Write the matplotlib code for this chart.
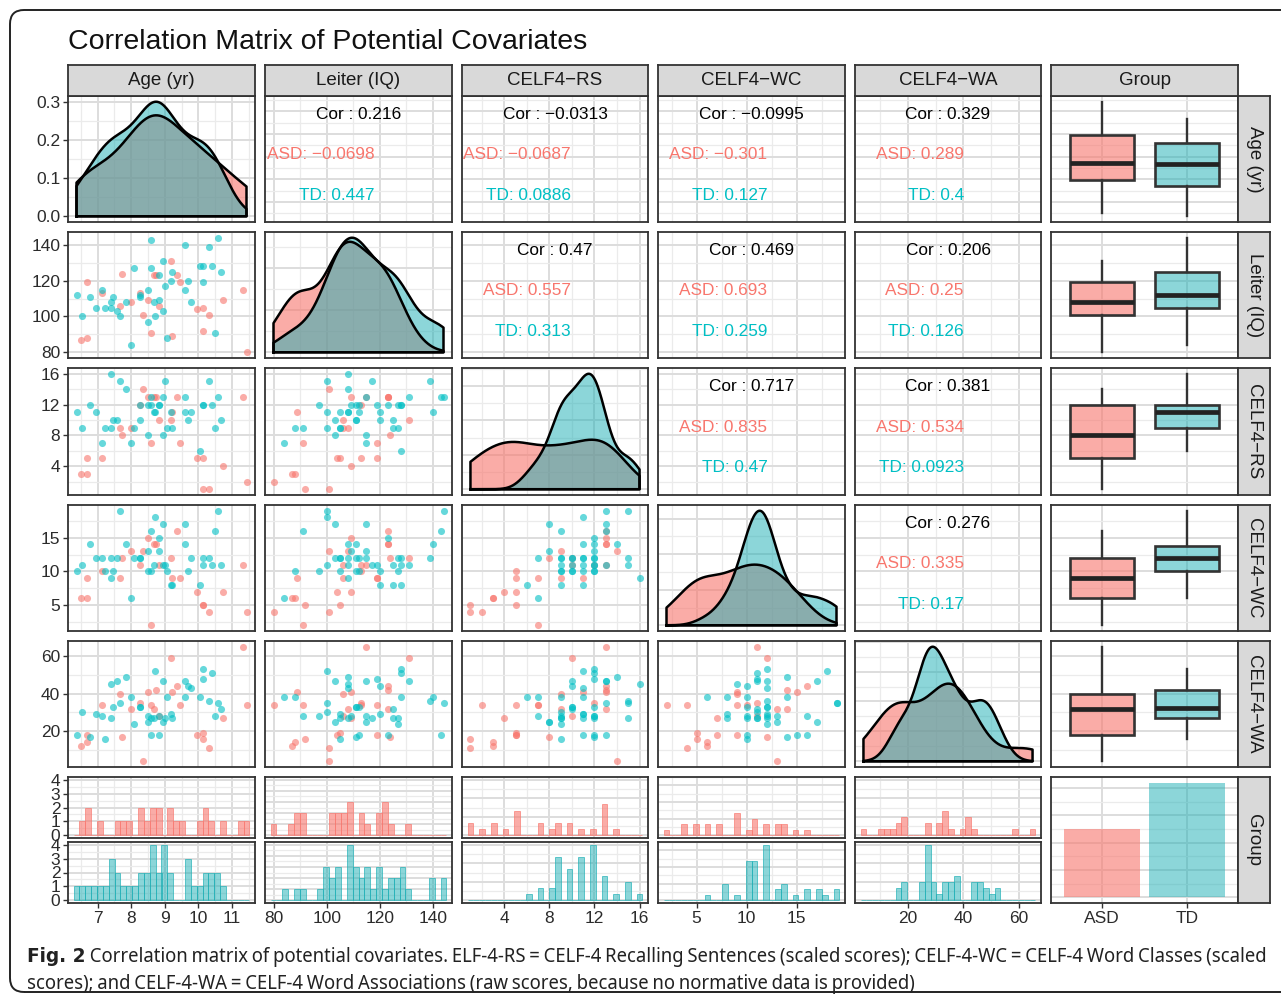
import numpy as np
import matplotlib
matplotlib.use('Agg')
import matplotlib.pyplot as plt
from matplotlib.patches import FancyBboxPatch
from matplotlib.ticker import MaxNLocator
from matplotlib import font_manager as fm

plt.rcParams['font.family'] = ['Liberation Sans', 'DejaVu Sans']

# ---------------- data ----------------
var_names = ["Age (yr)", "Leiter (IQ)", "CELF4\u2212RS", "CELF4\u2212WC", "CELF4\u2212WA"]
groups = ["ASD", "TD"]
point_colors = ["#F8766D", "#00BFC4"]
fill_colors = ["#F8766D", "#1AAEB4"]

age_asd = [6.51, 6.68, 6.69, 7.14, 7.65, 7.73, 7.98, 8.25, 8.35, 8.49, 8.60, 8.69, 8.74, 8.84, 9.18,
           9.20, 9.36, 9.45, 9.97, 10.14, 10.14, 10.31, 10.74, 11.33, 11.43]
leiter_asd = [87, 88, 119, 113, 106, 124, 108, 113, 101, 109, 91, 123, 123, 106, 131,
              89, 123, 119, 104, 105, 92, 101, 109, 115, 80]
rs_asd = [3, 3, 5, 5, 9, 8, 9, 12, 14, 13, 7, 13, 13, 10, 10, 11, 13, 7, 5, 5, 1, 1, 4, 13, 2]
wc_asd = [6, 6, 9, 10, 9, 12, 13, 11, 13, 15, 2, 14, 14, 11, 12, 9, 16, 9, 7, 5, 5, 4, 7, 11, 4]
wa_asd = [12, 14, 18, 34, 40, 17, 32, 35, 4, 41, 34, 32, 42, 28, 59, 41, 44, 34, 18, 19, 16, 11, 27, 65, 34]

age_td = [6.37, 6.53, 6.78, 6.96, 7.14, 7.23, 7.39, 7.40, 7.47, 7.57, 7.65, 7.85, 7.99, 8.08,
          8.25, 8.25, 8.49, 8.50, 8.60, 8.60, 8.67, 8.72, 8.84, 8.84, 8.93, 8.93, 9.00, 9.05,
          9.18, 9.20, 9.60, 9.60, 9.69, 9.79, 10.05, 10.14, 10.14, 10.30, 10.40, 10.49, 10.57, 10.66]
leiter_td = [112, 100, 111, 105, 115, 105, 105, 108, 111, 103, 100, 108, 84, 127,
             111, 112, 115, 97, 143, 127, 108, 100, 123, 109, 103, 131, 117, 88,
             120, 125, 115, 140, 120, 108, 128, 128, 119, 139, 128, 91, 144, 125]
rs_td = [11, 9, 12, 11, 7, 9, 9, 16, 10, 10, 15, 14, 7, 9, 10, 12, 8, 12, 13, 12, 11,
         11, 12, 12, 8, 13, 15, 9, 11, 9, 13, 11, 10, 11, 6, 12, 12, 15, 12, 9, 13, 10]
wc_td = [10, 11, 14, 12, 12, 10, 12, 9, 10, 12, 19, 14, 6, 12, 12, 12, 13, 10, 16, 10, 11,
         18, 15, 13, 17, 11, 11, 10, 8, 8, 17, 14, 10, 12, 8, 12, 11, 12, 11, 16, 19, 11]
wa_td = [18, 30, 17, 29, 28, 16, 27, 45, 33, 47, 35, 49, 38, 24, 33, 33, 25, 28, 18, 27, 27,
         52, 18, 28, 25, 47, 27, 38, 29, 27, 47, 38, 44, 43, 38, 53, 48, 36, 51, 28, 35, 32]

var_ticks = [[7, 8, 9, 10, 11], [80, 100, 120, 140], [4, 8, 12, 16], [5, 10, 15], [20, 40, 60]]

# correlation labels, upper triangle (row, col)
cor_pairs = [(0, 1), (0, 2), (0, 3), (0, 4), (1, 2), (1, 3), (1, 4), (2, 3), (2, 4), (3, 4)]
cor_all = ["0.216", "\u22120.0313", "\u22120.0995", "0.329", "0.47", "0.469", "0.206", "0.717", "0.381", "0.276"]
cor_asd = ["\u22120.0698", "\u22120.0687", "\u22120.301", "0.289", "0.557", "0.693", "0.25", "0.835", "0.534", "0.335"]
cor_td = ["0.447", "0.0886", "0.127", "0.4", "0.313", "0.259", "0.126", "0.47", "0.0923", "0.17"]

caption_bold = "Fig. 2"
caption_line1 = (" Correlation matrix of potential covariates. ELF-4-RS = CELF-4 Recalling Sentences "
                 "(scaled scores); CELF-4-WC = CELF-4 Word Classes (scaled")
caption_line2 = ("scores); and CELF-4-WA = CELF-4 Word Associations (raw scores, because no normative "
                 "data is provided)")

data = {"ASD": [np.array(v, float) for v in (age_asd, leiter_asd, rs_asd, wc_asd, wa_asd)],
        "TD": [np.array(v, float) for v in (age_td, leiter_td, rs_td, wc_td, wa_td)]}

# ---------------- layout ----------------
W, H = 1281, 1000
fig = plt.figure(figsize=(W / 100, H / 100), dpi=100)

col_x = [(68, 255), (265, 452), (462, 648), (658, 845), (855, 1041), (1051, 1238)]
row_y = [(96, 222), (232, 358), (368, 495), (505, 631), (641, 767), (777, 903)]
SPINE = '#333333'
TXT = '#2b2b2b'
TICKFS = 12.5
A_ASD, A_TD = 0.6, 0.5
fills = [matplotlib.colors.to_rgba(fill_colors[0], A_ASD), matplotlib.colors.to_rgba(fill_colors[1], A_TD)]

lims = []
for v in range(5):
    allv = np.concatenate([data["ASD"][v], data["TD"][v]])
    mn, mx = allv.min(), allv.max()
    r = mx - mn
    lims.append((mn - 0.05 * r, mx + 0.05 * r))


def make_ax(x0, x1, y0, y1):
    ax = fig.add_axes([x0 / W, 1 - y1 / H, (x1 - x0) / W, (y1 - y0) / H])
    for s in ax.spines.values():
        s.set_color(SPINE)
        s.set_linewidth(1.3)
    ax.tick_params(which='both', length=0, labelleft=False, labelbottom=False,
                   labelsize=TICKFS, labelcolor=TXT, color=SPINE, width=1.0, pad=2)
    ax.set_axisbelow(True)
    return ax


def minors(ticks, lim):
    step = ticks[1] - ticks[0]
    c = np.arange(ticks[0] - step / 2, ticks[-1] + step, step)
    return [m for m in c if lim[0] <= m <= lim[1]]


def set_grid(ax, xt, xl, yt, yl, xminor=True, yminor=True):
    ax.set_xticks(xt)
    ax.set_yticks(yt)
    ax.set_xticks(minors(xt, xl) if xminor else [], minor=True)
    ax.set_yticks(minors(yt, yl) if yminor else [], minor=True)
    ax.set_xlim(xl)
    ax.set_ylim(yl)
    ax.grid(which='major', color='#DDDDDD', lw=1.4)
    ax.grid(which='minor', color='#EBEBEB', lw=0.9)


def bw_nrd0(x):
    hi = np.std(x, ddof=1)
    q75, q25 = np.percentile(x, [75, 25])
    lo = min(hi, (q75 - q25) / 1.34)
    if lo <= 0:
        lo = hi
    return 0.9 * lo * len(x) ** (-0.2)


def kde(x, grid):
    bw = bw_nrd0(x)
    z = (grid[:, None] - x[None, :]) / bw
    return np.exp(-0.5 * z ** 2).sum(1) / (len(x) * bw * np.sqrt(2 * np.pi))


def density_ticks(ymax, yl):
    t = MaxNLocator(nbins=4, steps=[1, 2, 2.5, 5, 10]).tick_values(0, ymax)
    return [v for v in t if yl[0] - 1e-9 <= v <= yl[1] + 1e-9]


# ---------------- panels ----------------
for i in range(5):          # rows (variables)
    for j in range(6):      # columns
        x0, x1 = col_x[j]
        y0, y1 = row_y[i]
        ax = make_ax(x0, x1, y0, y1)
        if j < 5 and i == j:
            span = lims[i][1] - lims[i][0]
            grid = np.linspace(lims[i][0] + 0.05 / 1.1 * span, lims[i][1] - 0.05 / 1.1 * span, 512)
            dens = [kde(data[g][i], grid) for g in groups]
            dmax = max(d.max() for d in dens)
            yl = (-0.05 * dmax, 1.05 * dmax)
            yt = density_ticks(dmax, yl) if i > 0 else [0.0, 0.1, 0.2, 0.3]
            set_grid(ax, var_ticks[i], lims[i], yt, yl)
            for fc, d in zip(fills, dens):
                ax.fill_between(grid, 0, d, color=fc, lw=0)
                ax.plot(np.r_[grid[0], grid, grid[-1], grid[0]], np.r_[0, d, 0, 0],
                        color='black', lw=1.8, solid_joinstyle='round')
            if i == 0:
                ax.set_yticklabels(["0.0", "0.1", "0.2", "0.3"])
                ax.tick_params(which='major', axis='y', length=3.5, labelleft=True)
        elif j < 5 and j < i:
            set_grid(ax, var_ticks[j], lims[j], var_ticks[i], lims[i])
            for g, c in zip(groups, point_colors):
                ax.scatter(data[g][j], data[g][i], s=26, color=c, alpha=0.6, lw=0)
            if j == 0:
                ax.tick_params(which='major', axis='y', length=3.5, labelleft=True)
        elif j < 5 and j > i:
            set_grid(ax, var_ticks[j], lims[j], var_ticks[i], lims[i])
            k = cor_pairs.index((i, j))
            ax.text(0.5, 0.857, "Cor : " + cor_all[k], transform=ax.transAxes,
                    ha='center', va='center', fontsize=12.4, color='black')
            ax.text(0.585, 0.532, "ASD: " + cor_asd[k], transform=ax.transAxes,
                    ha='right', va='center', fontsize=12.4, color=point_colors[0])
            ax.text(0.585, 0.214, "TD: " + cor_td[k], transform=ax.transAxes,
                    ha='right', va='center', fontsize=12.4, color=point_colors[1])
        else:
            set_grid(ax, [1, 2], (0.4, 2.6), var_ticks[i], lims[i], xminor=False)
            bp = ax.boxplot([data[g][i] for g in groups], positions=[1, 2], widths=0.75,
                            patch_artist=True, showcaps=False, whis=1.5,
                            medianprops=dict(color='#222222', lw=3.4, solid_capstyle='butt'),
                            whiskerprops=dict(color='#333333', lw=1.7),
                            flierprops=dict(marker='o', markerfacecolor='#333333',
                                            markeredgecolor='#333333', markersize=5))
            for patch, fc in zip(bp['boxes'], fills):
                patch.set_facecolor(fc)
                patch.set_edgecolor('#333333')
                patch.set_linewidth(1.9)
            ax.set_xlim(0.4, 2.6)
            ax.set_ylim(lims[i])

# bottom row: histograms per group
for j in range(5):
    x0, x1 = col_x[j]
    allv = np.concatenate([data["ASD"][j], data["TD"][j]])
    mn, mx = allv.min(), allv.max()
    bw = (mx - mn) / 29
    edges = mn - bw / 2 + bw * np.arange(31)
    centers = (edges[:-1] + edges[1:]) / 2
    counts = [np.histogram(data[g][j], bins=edges)[0] for g in groups]
    cmax = max(c.max() for c in counts)
    yl = (-0.05 * cmax, 1.05 * cmax)
    if cmax <= 5:
        yt = list(range(0, int(cmax) + 1))
    else:
        yt = [v for v in MaxNLocator(nbins=4, integer=True).tick_values(0, cmax) if v <= yl[1]]
    subs = [(777, 838), (842, 903)]
    for gi in range(2):
        ax = make_ax(x0, x1, subs[gi][0], subs[gi][1])
        set_grid(ax, var_ticks[j], lims[j], yt, yl)
        ec = matplotlib.colors.to_rgba(fill_colors[gi], 0.75)
        ax.bar(centers, counts[gi], width=bw, color=fills[gi], edgecolor=ec, lw=0.6)
        if j == 0:
            ax.tick_params(which='major', axis='y', length=3.5, labelleft=True)
        if gi == 1:
            ax.tick_params(which='major', axis='x', length=3.5, labelbottom=True)

# bottom-right: group counts
ax = make_ax(col_x[5][0], col_x[5][1], row_y[5][0], row_y[5][1])
n_counts = [len(data[g][0]) for g in groups]
cm = max(n_counts)
set_grid(ax, [1, 2], (0.4, 2.6), [0, 10, 20, 30, 40], (-0.05 * cm, 1.05 * cm), xminor=False)
ax.bar([1, 2], n_counts, width=0.9, color=fills, lw=0)
ax.set_xticklabels(groups)
ax.tick_params(which='major', axis='x', length=3.5, labelbottom=True)

# strips
all_names = var_names + ["Group"]
for j in range(6):
    x0, x1 = col_x[j]
    sa = make_ax(x0, x1, 65, 96)
    sa.set_facecolor('#D9D9D9')
    sa.set_xticks([]); sa.set_yticks([])
    sa.text(0.5, 0.5, all_names[j], transform=sa.transAxes, ha='center', va='center',
            fontsize=13.5, color='#1a1a1a')
for i in range(6):
    y0, y1 = row_y[i]
    sa = make_ax(1238, 1270, y0, y1)
    sa.set_facecolor('#D9D9D9')
    sa.set_xticks([]); sa.set_yticks([])
    sa.text(0.5, 0.5, all_names[i], transform=sa.transAxes, ha='center', va='center',
            fontsize=13.5, color='#1a1a1a', rotation=-90)

# title
fig.text(68 / W, 1 - 42 / H, "Correlation Matrix of Potential Covariates", ha='left',
         va='center', fontsize=20.5, color='#111111')

# frame
frame = FancyBboxPatch((0.10, 0.08), 13.2, 9.82, boxstyle="round,pad=0,rounding_size=0.14",
                       transform=fig.dpi_scale_trans, fill=False, ec='#222222', lw=1.4)
fig.add_artist(frame)

# caption: pick the installed sans face whose size that fits the line width is nearest 13.5 pt
Y1, Y2 = 1 - 962 / H, 1 - 989 / H
TARGET_W = 1243.0
r = fig.canvas.get_renderer()
PREF = ('Open Sans', 'Noto Sans', 'Roboto', 'Liberation Sans', 'DejaVu Sans', 'Lato', 'Inter')


def wnum(f):
    w = f.weight
    if isinstance(w, (int, float)):
        return int(w)
    return fm.weight_dict.get(str(w).lower(), 400)


def usable(f):
    nm = f.name
    if any(s in nm for s in ('Mono', 'Serif', 'CJK', 'Extra', 'Ultra', 'Black', 'Light', 'Thin')):
        return False
    if f.style != 'normal':
        return False
    if 'italic' in f.fname.lower() or 'variable' in f.fname.lower() or '[' in f.fname:
        return False
    return any(nm.startswith(p) for p in PREF)


regular = []
seen = set()
for f in fm.fontManager.ttflist:
    if usable(f) and wnum(f) == 400 and (f.name, str(f.stretch)) not in seen:
        seen.add((f.name, str(f.stretch)))
        regular.append(f)

best = None
for f in regular:
    fp = fm.FontProperties(fname=f.fname)
    tt = fig.text(0, 0, caption_bold + caption_line1, fontproperties=fp, fontsize=14)
    wd = tt.get_window_extent(r).width
    tt.remove()
    need = 14 * TARGET_W / wd
    score = abs(need - 13.5)
    if best is None or score < best[0]:
        best = (score, f, need)

fp_reg = fm.FontProperties(family=['Liberation Sans'])
fp_bold = fm.FontProperties(family=['Liberation Sans'], weight='bold')
cap_fs = 12.5
if best is not None:
    freg = best[1]
    fp_reg = fm.FontProperties(fname=freg.fname)
    cap_fs = best[2]
    bolds = [f for f in fm.fontManager.ttflist
             if f.style == 'normal' and wnum(f) >= 600 and 'italic' not in f.fname.lower()
             and any(f.name.startswith(p) for p in PREF) and 'Mono' not in f.name
             and 'Serif' not in f.name and 'CJK' not in f.name]
    same = [f for f in bolds if f.name == freg.name]
    cond = [f for f in bolds if str(f.stretch) == str(freg.stretch)]
    pick = same or cond
    if pick:
        pick.sort(key=lambda f: abs(wnum(f) - 700))
        fp_bold = fm.FontProperties(fname=pick[0].fname)

t1 = fig.text(27 / W, Y1, caption_bold, ha='left', va='baseline', fontproperties=fp_bold,
              color='#222222')
t2 = fig.text(0, Y1, caption_line1, ha='left', va='baseline', fontproperties=fp_reg,
              color='#222222')
t3 = fig.text(27 / W, Y2, caption_line2, ha='left', va='baseline', fontproperties=fp_reg,
              color='#222222')
for t in (t1, t2, t3):
    t.set_fontsize(cap_fs)
tot = t1.get_window_extent(r).width + t2.get_window_extent(r).width
cap_fs = cap_fs * (TARGET_W / tot)
for t in (t1, t2, t3):
    t.set_fontsize(cap_fs)
bb = t1.get_window_extent(r)
t2.set_x(bb.x1 / W)

fig.savefig("out.png", dpi=100)
